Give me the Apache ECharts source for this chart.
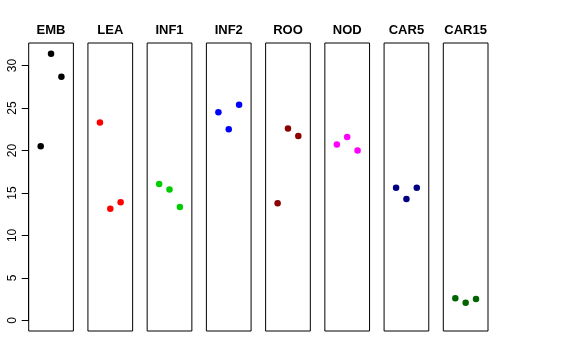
<!DOCTYPE html>
<html><head><meta charset="utf-8">
<script src="https://cdn.jsdelivr.net/npm/echarts@6/dist/echarts.min.js"></script>
<style>html,body{margin:0;padding:0;background:#fff}#c{width:576px;height:360px}</style>
</head><body><div id="c"></div>
<script>
const categories = ['EMB','LEA','INF1','INF2','ROO','NOD','CAR5','CAR15'];
const colors = ['#000000','#FF0000','#00CD00','#0000FF','#8B0000','#FF00FF','#000080','#006400'];
const EMB = [20.5, 31.4, 28.7];
const LEA = [23.3, 13.15, 13.9];
const INF1 = [16.05, 15.4, 13.35];
const INF2 = [24.5, 22.5, 25.4];
const ROO = [13.8, 22.6, 21.7];
const NOD = [20.7, 21.6, 20.0];
const CAR5 = [15.6, 14.3, 15.6];
const CAR15 = [2.6, 2.07, 2.5];
const yTicks = [0, 5, 10, 15, 20, 25, 30];
const seriesValues = [EMB, LEA, INF1, INF2, ROO, NOD, CAR5, CAR15];

const yMin = -1.256, yMax = 32.66;
const panelTop = 43, panelBottom = 331, left0 = 28.7, step = 59.23, pw = 44.7;
const grid = [], xAxis = [], yAxis = [], series = [], title = [];
categories.forEach((c, i) => {
  const l = left0 + i * step;
  grid.push({left: l, top: panelTop, width: pw, height: panelBottom - panelTop,
    show: true, borderColor: '#000', borderWidth: 1, backgroundColor: 'transparent', containLabel: false});
  xAxis.push({type: 'value', gridIndex: i, min: -0.16, max: 4.16, show: false});
  yAxis.push({type: 'value', gridIndex: i, min: yMin, max: yMax, show: false});
  series.push({type: 'scatter', xAxisIndex: i, yAxisIndex: i, symbolSize: 6.5,
    itemStyle: {color: colors[i], opacity: 1},
    data: seriesValues[i].map((v, k) => [k + 1, v]), silent: true});
  title.push({text: c, left: l + pw / 2, top: 23.5, textAlign: 'center', padding: 0,
    textStyle: {fontFamily: 'Liberation Sans, Arial, sans-serif', fontWeight: 'bold', fontSize: 13, color: '#000'}});
});
// axis grid (R-style axis spanning first to last tick)
const pxPerUnit = (panelBottom - panelTop) / (yMax - yMin);
const y0px = panelBottom - (0 - yMin) * pxPerUnit;
const y30px = panelBottom - (30 - yMin) * pxPerUnit;
grid.push({left: left0, top: y30px, width: 1, height: y0px - y30px, show: false});
xAxis.push({type: 'value', gridIndex: 8, show: false, min: 0, max: 1});
yAxis.push({type: 'value', gridIndex: 8, min: yTicks[0], max: yTicks[yTicks.length - 1], interval: 5,
  axisLine: {show: true, lineStyle: {color: '#000', width: 1}},
  axisTick: {show: true, length: 7, inside: false, lineStyle: {color: '#000'}},
  splitLine: {show: false},
  axisLabel: {show: true, rotate: 90, margin: 10, fontSize: 12, color: '#000',
    fontFamily: 'Liberation Sans, Arial, sans-serif'}
});
const chart = echarts.init(document.getElementById('c'), null, {renderer: 'canvas'});
chart.setOption({animation: false, backgroundColor: '#fff', title, grid, xAxis, yAxis, series});
</script></body></html>
